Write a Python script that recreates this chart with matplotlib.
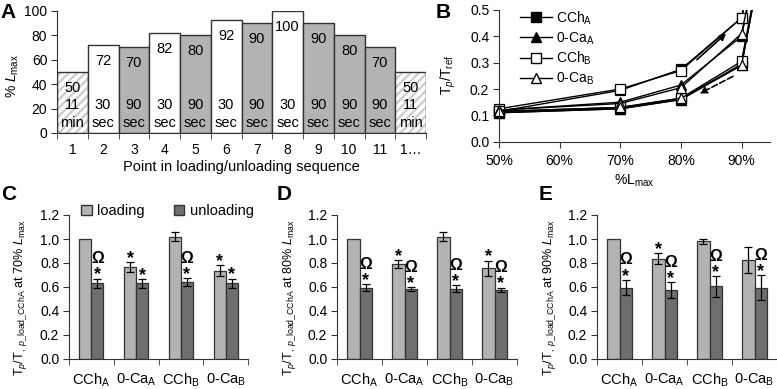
import numpy as np
import matplotlib
matplotlib.use("Agg")
import matplotlib.pyplot as plt
from matplotlib.patches import Patch
from matplotlib.lines import Line2D

plt.rcParams['font.family'] = ['Liberation Sans', 'DejaVu Sans']
plt.rcParams['mathtext.fontset'] = 'custom'
plt.rcParams['mathtext.rm'] = 'Liberation Sans'
plt.rcParams['mathtext.it'] = 'Liberation Sans:italic'
plt.rcParams['mathtext.bf'] = 'Liberation Sans:bold'
plt.rcParams['mathtext.default'] = 'regular'
plt.rcParams['hatch.linewidth'] = 1.6

# panel A: loading / unloading sequence
seq_labels = ['1', '2', '3', '4', '5', '6', '7', '8', '9', '10', '11', '1…']
lmax_pct = [50, 72, 70, 82, 80, 92, 90, 100, 90, 80, 70, 50]
hold_num = ['11', '30', '90', '30', '90', '30', '90', '30', '90', '90', '90', '11']
hold_unit = ['min', 'sec', 'sec', 'sec', 'sec', 'sec', 'sec', 'sec', 'sec', 'sec', 'sec', 'min']
bar_kind = ['rest', 'short', 'long', 'short', 'long', 'short', 'long', 'short', 'long', 'long', 'long', 'rest']

# panel B: Tp/Tref loops (loading up to 100%, then unloading)
loop_x = [50, 70, 80, 90, 100, 90, 80, 70, 50]
cch_a = [0.115, 0.195, 0.275, 0.47, 1.5, 0.29, 0.16, 0.125, 0.11]
oca_a = [0.12, 0.15, 0.215, 0.40, 1.5, 0.295, 0.16, 0.125, 0.11]
cch_b = [0.125, 0.20, 0.27, 0.47, 1.5, 0.305, 0.165, 0.13, 0.115]
oca_b = [0.12, 0.145, 0.205, 0.41, 1.5, 0.29, 0.165, 0.13, 0.115]
loop_names = ['CCh$_A$', '0-Ca$_A$', 'CCh$_B$', '0-Ca$_B$']

# panels C-E
groups = ['CCh$_A$', '0-Ca$_A$', 'CCh$_B$', '0-Ca$_B$']
pct_levels = ['70%', '80%', '90%']
load_mean = [[1.0, 0.765, 1.02, 0.735],
             [1.0, 0.79, 1.02, 0.755],
             [1.0, 0.835, 0.98, 0.825]]
load_err = [[0, 0.04, 0.035, 0.045],
            [0, 0.035, 0.035, 0.065],
            [0, 0.045, 0.02, 0.105]]
unload_mean = [[0.63, 0.63, 0.64, 0.63],
               [0.595, 0.585, 0.585, 0.575],
               [0.595, 0.575, 0.605, 0.595]]
unload_err = [[0.04, 0.035, 0.035, 0.04],
              [0.03, 0.015, 0.03, 0.02],
              [0.065, 0.065, 0.085, 0.105]]
load_mark = [['', '*', '', '*'], ['', '*', '', '*'], ['', '*', '', '']]
unload_mark = [['Ω*', '*', 'Ω*', '*'], ['Ω*', 'Ω*', 'Ω*', 'Ω*'], ['Ω*', 'Ω*', 'Ω*', 'Ω*']]

W, H = 777, 389
fig = plt.figure(figsize=(W / 100, H / 100), dpi=100)


def px(l, t, r, b):
    return [l / W, 1 - b / H, (r - l) / W, (b - t) / H]


def style(ax):
    for s in ['top', 'right']:
        ax.spines[s].set_visible(False)
    for s in ['left', 'bottom']:
        ax.spines[s].set_color('#333333')
    ax.tick_params(labelsize=10, color='#333333', length=4, width=0.8, pad=3)


# ---- A
axA = fig.add_axes(px(57, 10.7, 426, 133))
style(axA)
xs = np.arange(1, 13)
for x, v, k in zip(xs, lmax_pct, bar_kind):
    if k == 'rest':
        axA.bar(x, v, width=1, color='white', edgecolor='#cccccc', hatch='////', lw=0)
        axA.bar(x, v, width=1, color='none', edgecolor='#333333', lw=1)
    else:
        fc = 'white' if k == 'short' else '#b3b3b3'
        axA.bar(x, v, width=1, color=fc, edgecolor='#333333', lw=1)
for x, v, n, u in zip(xs, lmax_pct, hold_num, hold_unit):
    axA.text(x, v - 13, str(v), ha='center', va='center', fontsize=10.5)
    axA.text(x, 23, n, ha='center', va='center', fontsize=10.5)
    axA.text(x, 8, u, ha='center', va='center', fontsize=10.5)
axA.set_xlim(0.5, 12.5)
axA.set_ylim(0, 100)
axA.set_yticks(range(0, 101, 20))
axA.set_xticks(xs, seq_labels)
axA.set_xticks(np.arange(0.5, 12.6, 1), minor=True)
axA.tick_params(axis='x', which='major', length=0, pad=7)
axA.tick_params(axis='x', which='minor', length=4, color='#333333')
axA.set_xlabel('Point in loading/unloading sequence', fontsize=10.5, labelpad=2)
fig.text(13 / W, 1 - 76 / H, '% $\\mathit{L}_{\\mathrm{max}}$', rotation=90,
         ha='center', va='center', fontsize=10)

# ---- B
axB = fig.add_axes(px(499, 10, 770, 141.7))
style(axB)
markers = [('s', 'black'), ('^', 'black'), ('s', 'white'), ('^', 'white')]
handles = []
for ys, (m, fc), name in zip([cch_a, oca_a, cch_b, oca_b], markers, loop_names):
    axB.plot(loop_x, ys, color='black', lw=1)
    keep = [i for i, x in enumerate(loop_x) if x <= 90]
    axB.plot([loop_x[i] for i in keep], [ys[i] for i in keep], ls='none', marker=m,
             ms=7, mfc=fc, mec='black', mew=0.9, clip_on=False)
    handles.append(Line2D([], [], color='black', lw=1, marker=m, ms=6.5, mfc=fc, mec='black'))
axB.legend(handles, loop_names, loc='upper left', bbox_to_anchor=(0.03, 1.1), frameon=False,
           fontsize=10, handlelength=2.3, labelspacing=0.25, handletextpad=0.35)
axB.annotate('', xy=(87.8, 0.418), xytext=(82.3, 0.304),
             arrowprops=dict(arrowstyle='-|>', color='black', lw=1.2, mutation_scale=10))
axB.annotate('', xy=(82.7, 0.178), xytext=(89.0, 0.253),
             arrowprops=dict(arrowstyle='-|>', color='black', lw=1.2, ls='--', mutation_scale=10))
axB.set_xlim(50, 94.7)
axB.set_ylim(0, 0.5)
axB.set_xticks([50, 60, 70, 80, 90], ['50%', '60%', '70%', '80%', '90%'])
axB.set_yticks(np.arange(0, 0.51, 0.1), ['0.0', '0.1', '0.2', '0.3', '0.4', '0.5'])
axB.tick_params(axis='x', pad=5)
axB.set_xlabel('%L$_{\\mathrm{max}}$', fontsize=10, labelpad=3)
fig.text(448 / W, 1 - 75 / H, 'T$_{\\mathit{p}}$/T$_{\\mathrm{ref}}$', rotation=90,
         ha='center', va='center', fontsize=10)

# ---- C, D, E
lefts = [69, 337, 597]
rights = [248, 517, 777]
ylab_x = [21, 289, 549]
gx = np.arange(4)
bw = 0.27
for i in range(3):
    ax = fig.add_axes(px(lefts[i], 215, rights[i], 359))
    style(ax)
    ax.bar(gx - bw / 2, load_mean[i], bw, color='#b3b3b3', edgecolor='#333333', lw=0.9)
    ax.bar(gx + bw / 2, unload_mean[i], bw, color='#6e6e6e', edgecolor='#333333', lw=0.9)
    le = np.array(load_err[i])
    ax.errorbar(gx[le > 0] - bw / 2, np.array(load_mean[i])[le > 0], yerr=le[le > 0],
                fmt='none', ecolor='black', elinewidth=0.9, capsize=3, capthick=0.9)
    ax.errorbar(gx + bw / 2, unload_mean[i], yerr=unload_err[i],
                fmt='none', ecolor='black', elinewidth=0.9, capsize=3, capthick=0.9)
    for g in range(4):
        for off, mean, err, mk in [(-bw / 2, load_mean[i][g], load_err[i][g], load_mark[i][g]),
                                   (bw / 2, unload_mean[i][g], unload_err[i][g], unload_mark[i][g])]:
            top = mean + err
            if '*' in mk:
                ax.text(g + off, top + 0.03, '*', ha='center', va='center',
                        fontsize=13, fontweight='bold')
            if 'Ω' in mk:
                ax.text(g + off, top + 0.165, 'Ω', ha='center', va='center',
                        fontsize=11.5, fontweight='bold')
    ax.set_xlim(-0.5, 3.5)
    ax.set_ylim(0, 1.2)
    ax.set_yticks(np.arange(0, 1.21, 0.2), ['0.0', '0.2', '0.4', '0.6', '0.8', '1.0', '1.2'])
    ax.set_xticks(gx, groups)
    ax.set_xticks(np.arange(-0.5, 3.6, 1), minor=True)
    ax.tick_params(axis='x', which='major', length=0, pad=9, labelsize=10.5)
    ax.tick_params(axis='x', which='minor', length=4, color='#333333')
    fig.text(ylab_x[i] / W, 1 - 298 / H,
             'T$_{\\mathit{p}}$/T$_{,\\ \\mathit{p}\\_\\mathrm{load\\_CChA}}$ at ' + pct_levels[i]
             + ' $\\mathit{L}_{\\mathrm{max}}$',
             rotation=90, ha='center', va='center', fontsize=9)

fig.legend([Patch(facecolor='#b3b3b3', edgecolor='#333333'),
            Patch(facecolor='#6e6e6e', edgecolor='#333333')],
           ['loading', 'unloading'], loc='center left', bbox_to_anchor=(74 / W, 1 - 211 / H),
           ncol=2, frameon=False, fontsize=10.5, handlelength=0.7, handleheight=0.7,
           handletextpad=0.4, columnspacing=2.0, borderpad=0)

# panel letters
for lab, x, y in [('A', 8, 13), ('B', 443, 13), ('C', 9, 195), ('D', 284, 195), ('E', 546, 195)]:
    fig.text(x / W, 1 - y / H, lab, ha='center', va='center', fontsize=15, fontweight='bold')

fig.savefig('out.png', dpi=100)
